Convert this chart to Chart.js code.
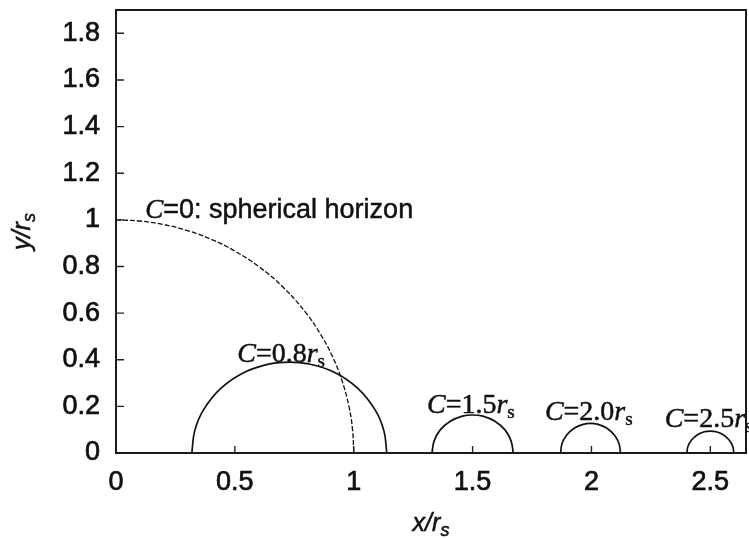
<!DOCTYPE html>
<html>
<head>
<meta charset="utf-8">
<script src="https://cdn.jsdelivr.net/npm/chart.js@4"></script>
<style>
  body { margin: 0; background: #fff; }
  #wrap { width: 749px; height: 538px; }
</style>
</head>
<body>
<div id="wrap"><canvas id="horizons" width="749" height="538"></canvas></div>
<script>
// horizon profiles, x and y in units of r_s
const horizonX = [0, 0.1, 0.2, 0.3, 0.4, 0.5, 0.6, 0.7, 0.8, 0.86, 0.91, 0.95, 0.98, 0.995, 1];
const horizonY = [1, 0.995, 0.98, 0.954, 0.917, 0.866, 0.8, 0.714, 0.6, 0.51, 0.415, 0.312, 0.199, 0.1, 0];

const c08X = [0.319, 0.331, 0.368, 0.442, 0.545, 0.647, 0.729, 0.811, 0.914, 1.016, 1.09, 1.127, 1.139];
const c08Y = [0, 0.095, 0.185, 0.278, 0.348, 0.382, 0.39, 0.382, 0.348, 0.278, 0.185, 0.095, 0];

const c15X = [1.329, 1.338, 1.363, 1.406, 1.457, 1.5, 1.543, 1.594, 1.637, 1.662, 1.671];
const c15Y = [0, 0.051, 0.098, 0.136, 0.158, 0.163, 0.158, 0.136, 0.098, 0.051, 0];

const c20X = [1.87, 1.876, 1.895, 1.927, 1.965, 1.996, 2.028, 2.065, 2.097, 2.116, 2.122];
const c20Y = [0, 0.04, 0.076, 0.106, 0.123, 0.127, 0.123, 0.106, 0.076, 0.04, 0];

const c25X = [2.401, 2.406, 2.421, 2.446, 2.475, 2.5, 2.525, 2.554, 2.579, 2.594, 2.599];
const c25Y = [0, 0.029, 0.056, 0.078, 0.091, 0.094, 0.091, 0.078, 0.056, 0.029, 0];

const xTickValues = [0, 0.5, 1, 1.5, 2, 2.5];
const yTickValues = [0, 0.2, 0.4, 0.6, 0.8, 1, 1.2, 1.4, 1.6, 1.8];

const SERIF = '"Liberation Serif", "Times New Roman", serif';
const SANS = '"Liberation Sans", Arial, sans-serif';

// curve labels: anchor (left, baseline) in data units, then text runs
const curveLabels = [
  { x: 0.123, y: 1.006, parts: [
    { text: 'C', font: 'italic 27px ' + SERIF },
    { text: '=0: spherical horizon', font: '27px ' + SANS }
  ] },
  { x: 0.51, y: 0.39, parts: [
    { text: 'C', font: 'italic 28px ' + SERIF },
    { text: '=0.8', font: '28px ' + SERIF },
    { text: 'r', font: 'italic 28px ' + SERIF },
    { text: 's', font: '19px ' + SERIF, dy: 5 }
  ] },
  { x: 1.308, y: 0.172, parts: [
    { text: 'C', font: 'italic 28px ' + SERIF },
    { text: '=1.5', font: '28px ' + SERIF },
    { text: 'r', font: 'italic 28px ' + SERIF },
    { text: 's', font: '19px ' + SERIF, dy: 5 }
  ] },
  { x: 1.804, y: 0.142, parts: [
    { text: 'C', font: 'italic 28px ' + SERIF },
    { text: '=2.0', font: '28px ' + SERIF },
    { text: 'r', font: 'italic 28px ' + SERIF },
    { text: 's', font: '19px ' + SERIF, dy: 5 }
  ] },
  { x: 2.308, y: 0.112, parts: [
    { text: 'C', font: 'italic 28px ' + SERIF },
    { text: '=2.5', font: '28px ' + SERIF },
    { text: 'r', font: 'italic 28px ' + SERIF },
    { text: 's', font: '19px ' + SERIF, dy: 5 }
  ] }
];

function pts(xs, ys) {
  return xs.map((x, i) => ({ x: x, y: ys[i] }));
}

// draws a row of text runs with a light stroke so the glyphs come out heavier
function drawRuns(ctx, x, y, parts) {
  let cx = x;
  parts.forEach(p => {
    ctx.font = p.font;
    ctx.fillText(p.text, cx, y + (p.dy || 0));
    ctx.strokeText(p.text, cx, y + (p.dy || 0));
    cx += ctx.measureText(p.text).width;
  });
}

function runsWidth(ctx, parts) {
  let w = 0;
  parts.forEach(p => { ctx.font = p.font; w += ctx.measureText(p.text).width; });
  return w;
}

// frame, inward ticks, axis titles and curve labels
const decorations = {
  id: 'decorations',
  afterDatasetsDraw(chart) {
    const ctx = chart.ctx;
    const a = chart.chartArea;
    const xs = chart.scales.x, ys = chart.scales.y;
    ctx.save();

    ctx.strokeStyle = '#222';
    ctx.lineWidth = 1.4;
    ctx.beginPath();
    xs.ticks.forEach(t => {
      const px = xs.getPixelForValue(t.value);
      if (t.value === 0) return;
      ctx.moveTo(px, a.bottom);
      ctx.lineTo(px, a.bottom - 7);
    });
    ys.ticks.forEach(t => {
      const py = ys.getPixelForValue(t.value);
      if (t.value === 0) return;
      ctx.moveTo(a.left, py);
      ctx.lineTo(a.left + 8, py);
    });
    ctx.stroke();

    ctx.lineWidth = 2;
    ctx.strokeStyle = '#1a1a1a';
    ctx.strokeRect(a.left, a.top, a.right - a.left, a.bottom - a.top);

    ctx.fillStyle = '#111';
    ctx.strokeStyle = '#111';
    ctx.lineWidth = 0.5;
    ctx.textBaseline = 'alphabetic';
    ctx.textAlign = 'left';
    curveLabels.forEach(l => {
      drawRuns(ctx, xs.getPixelForValue(l.x), ys.getPixelForValue(l.y), l.parts);
    });

    const xTitle = [
      { text: 'x/r', font: 'italic 25px ' + SANS },
      { text: 's', font: 'italic 18px ' + SANS, dy: 5 }
    ];
    const cx = (a.left + a.right) / 2;
    drawRuns(ctx, cx - runsWidth(ctx, xTitle) / 2, 531, xTitle);

    const yTitle = [
      { text: 'y/r', font: 'italic 25px ' + SANS },
      { text: 's', font: 'italic 18px ' + SANS, dy: 5 }
    ];
    ctx.translate(30, (a.top + a.bottom) / 2);
    ctx.rotate(-Math.PI / 2);
    drawRuns(ctx, -runsWidth(ctx, yTitle) / 2, 0, yTitle);

    ctx.restore();
  }
};

function line(data, dash) {
  return {
    data: data,
    showLine: true,
    borderColor: '#111',
    borderWidth: dash ? 1.3 : 1.7,
    borderDash: dash || [],
    pointRadius: 0,
    tension: 0.4,
    fill: false
  };
}

const tickFont = { family: SANS, size: 27 };

new Chart(document.getElementById('horizons'), {
  type: 'scatter',
  data: {
    datasets: [
      line(pts(horizonX, horizonY), [5, 2]),
      line(pts(c08X, c08Y)),
      line(pts(c15X, c15Y)),
      line(pts(c20X, c20Y)),
      line(pts(c25X, c25Y))
    ]
  },
  options: {
    responsive: false,
    animation: false,
    layout: { padding: { top: 10, right: 3, left: 0, bottom: 0 } },
    plugins: { legend: { display: false }, tooltip: { enabled: false } },
    scales: {
      x: {
        type: 'linear',
        min: 0,
        max: 2.65,
        afterBuildTicks: s => { s.ticks = xTickValues.map(v => ({ value: v })); },
        afterFit: s => { s.height = 85; s.paddingLeft = 0; s.paddingRight = 0; },
        grid: { display: false, drawTicks: false },
        border: { display: false },
        ticks: {
          padding: 13,
          color: '#111',
          textStrokeColor: '#111',
          textStrokeWidth: 0.7,
          font: tickFont,
          callback: v => String(v)
        }
      },
      y: {
        type: 'linear',
        min: 0,
        max: 1.9,
        afterBuildTicks: s => { s.ticks = yTickValues.map(v => ({ value: v })); },
        afterFit: s => { s.width = 116; s.paddingTop = 0; s.paddingBottom = 0; },
        grid: { display: false, drawTicks: false },
        border: { display: false },
        ticks: {
          padding: 16,
          color: '#111',
          textStrokeColor: '#111',
          textStrokeWidth: 0.7,
          font: tickFont,
          callback: v => String(v)
        }
      }
    }
  },
  plugins: [decorations]
});
</script>
</body>
</html>
